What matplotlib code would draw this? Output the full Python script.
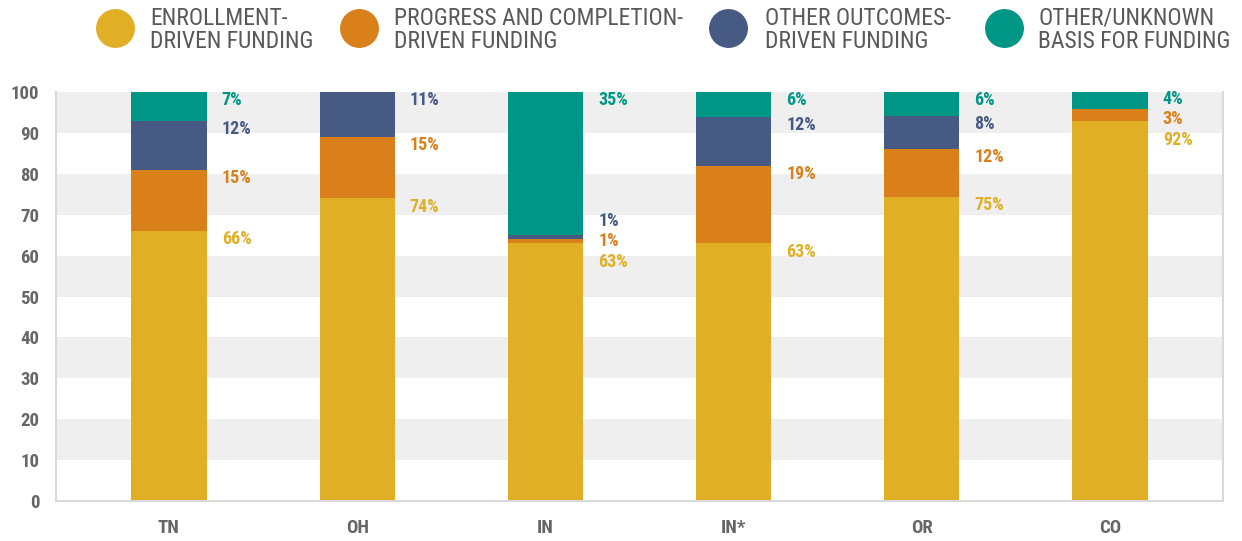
import numpy as np
import matplotlib
matplotlib.use('Agg')
import matplotlib.pyplot as plt
from matplotlib.lines import Line2D
from matplotlib import font_manager

states = ['TN', 'OH', 'IN', 'IN*', 'OR', 'CO']
enroll = [66, 74, 63, 63, 75, 92]
progress = [15, 15, 1, 19, 12, 3]
outcomes = [12, 11, 1, 12, 8, 0]
unknown = [7, 0, 35, 6, 6, 4]
series_names = ['ENROLLMENT-\nDRIVEN FUNDING', 'PROGRESS AND COMPLETION-\nDRIVEN FUNDING',
                'OTHER OUTCOMES-\nDRIVEN FUNDING', 'OTHER/UNKNOWN\nBASIS FOR FUNDING']
colors = ['#E0AF25', '#D9801B', '#475A83', '#009685']

names = {f.name for f in font_manager.fontManager.ttflist}
fam = [f for f in ['Liberation Sans Narrow', 'Roboto Condensed', 'DejaVu Sans'] if f in names]
plt.rcParams['font.family'] = fam

data = np.array([enroll, progress, outcomes, unknown], dtype=float)
shares = data / data.sum(axis=0) * 100  # bars are drawn as shares of 100

fig = plt.figure(figsize=(12.42, 5.41), dpi=100)
ax = fig.add_axes([56/1242, 40/541, (1223-56)/1242, (501-92)/541])

for lo in range(10, 100, 20):
    ax.axhspan(lo, lo + 10, color='#EFEFEF', zorder=0, lw=0)

x = np.arange(len(states))
bottom = np.zeros(len(states))
for k in range(4):
    ax.bar(x, shares[k], 0.4, bottom=bottom, color=colors[k], zorder=2, clip_on=False)
    bottom += shares[k]

# data labels right of each bar, spread apart when they crowd
gap = 5.0
for i in range(len(states)):
    tops = np.cumsum(shares[:, i])
    items = [(tops[k] - 2, k) for k in range(4) if data[k, i] > 0]
    items.sort(key=lambda t: -t[0])
    groups = []
    for y, k in items:
        groups.append([[y, k]])
        while len(groups) > 1:
            g1, g2 = groups[-2], groups[-1]
            low1 = np.mean([t[0] for t in g1]) - gap * (len(g1) - 1) / 2
            high2 = np.mean([t[0] for t in g2]) + gap * (len(g2) - 1) / 2
            if low1 - high2 < gap:
                groups[-2] = g1 + g2
                groups.pop()
            else:
                break
    for g in groups:
        m = np.mean([t[0] for t in g])
        if len(g) > 1:
            m += 1.5
        start = min(m + gap * (len(g) - 1) / 2, 98.3)
        for j, (y, k) in enumerate(g):
            ax.text(i + 0.28, start - j * gap, '%d%%' % data[k, i], color=colors[k],
                    fontsize=13, fontweight='bold', ha='left', va='center')

ax.set_xlim(-0.6, 5.6)
ax.set_ylim(0, 100)
ax.set_yticks(range(0, 101, 10))
ax.set_xticks(x)
ax.set_xticklabels(states)
ax.tick_params(length=0)
ax.tick_params(axis='y', pad=12, labelsize=13.5, labelcolor='#666666')
ax.tick_params(axis='x', pad=13, labelsize=13.5, labelcolor='#666666')
for lab in ax.get_xticklabels() + ax.get_yticklabels():
    lab.set_fontweight('bold')
ax.spines['top'].set_visible(False)
for s in ['left', 'bottom', 'right']:
    ax.spines[s].set_color('#D9D9D9')
    ax.spines[s].set_linewidth(1.5)

# legend across the top
circle_x = [115, 359, 728, 1004]
text_x = [150, 394, 765, 1038]
for k in range(4):
    fig.add_artist(Line2D([circle_x[k] / 1242], [1 - 28 / 541], marker='o', markersize=27,
                          color=colors[k], lw=0, transform=fig.transFigure))
    fig.text(text_x[k] / 1242, 1 - 30 / 541, series_names[k], color='#595959',
             fontsize=17, ha='left', va='center', linespacing=1.0)

fig.savefig('out.png', dpi=100)
